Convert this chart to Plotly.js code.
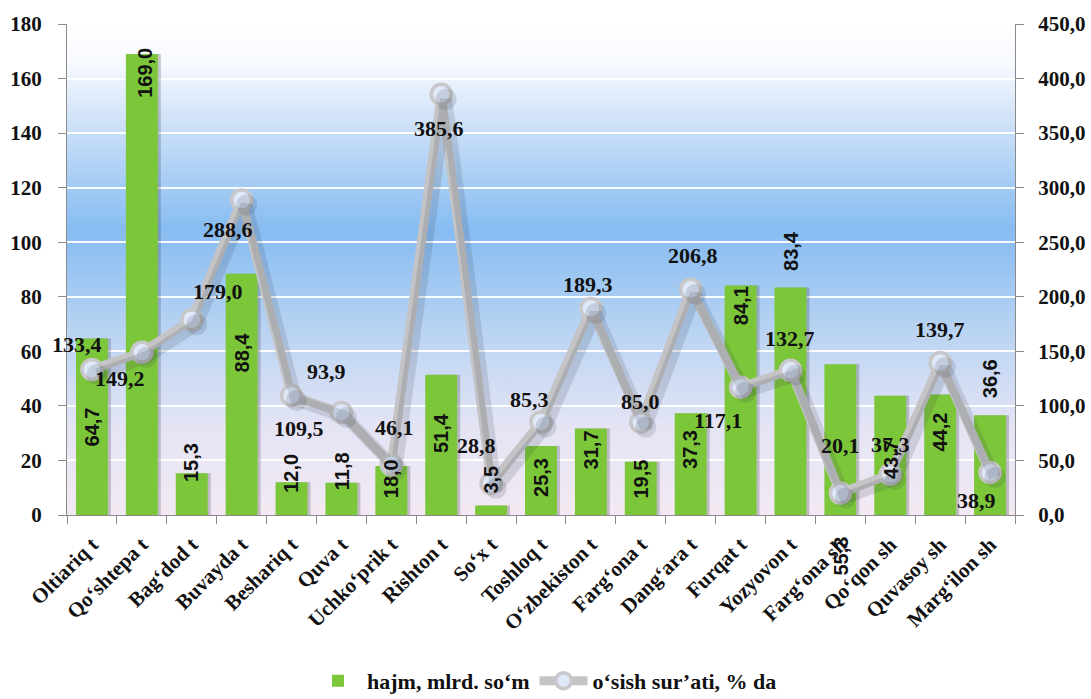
<!DOCTYPE html>
<html>
<head>
<meta charset="utf-8">
<script src="https://cdn.plot.ly/plotly-3.0.1.min.js"></script>
<style>
html,body{margin:0;padding:0;background:#fff;}
#chart{width:1091px;height:699px;}
</style>
</head>
<body>
<div id="chart"></div>
<script>
// ---- data ----
var categories = ["Oltiariq t","Qo‘shtepa t","Bag‘dod t","Buvayda t","Beshariq t","Quva t","Uchko‘prik t","Rishton t","So‘x t","Toshloq t","O‘zbekiston t","Farg‘ona t","Dang‘ara t","Furqat t","Yozyovon t","Farg‘ona sh","Qo‘qon sh","Quvasoy sh","Marg‘ilon sh"];
var hajm = [64.7,169.0,15.3,88.4,12.0,11.8,18.0,51.4,3.5,25.3,31.7,19.5,37.3,84.1,83.4,55.3,43.7,44.2,36.6];
var osish = [133.4,149.2,179.0,288.6,109.5,93.9,46.1,385.6,28.8,85.3,189.3,85.0,206.8,117.1,132.7,20.1,37.3,139.7,38.9];
var seriesNames = ["hajm, mlrd. so‘m","o‘sish sur’ati, % da"];
var leftTicks = [0,20,40,60,80,100,120,140,160,180];
var rightTicks = [0,50,100,150,200,250,300,350,400,450];

// ---- label placement (pixel nudges, style only) ----
var barLabelShift = [-88,-19,11,-79,9,12,-13,-58,26,-32,-21,-17,-36,-20,37,-192,-64,-38,36];
var barLabelXShift = [0,3,0,0,0,0,0,0,0,0,0,0,0,0,0,1,1,0,0];
var lineLabelDX = [-15,-22,26,-14,7,-15,3,-2,-15,-12,-3,0,2,-23,0,0,0,0,-14];
var lineLabelDY = [-25,26,-28,29,33,-41,-37,34,-38,-22,-24,-21,-34,33,-32,-48,-30,-33,28];

function fmt(v){ return v.toFixed(1).replace('.', ','); }

var serif = "Liberation Serif, Times New Roman, serif";
var sans = "Liberation Sans, Arial, sans-serif";

var bgSvg = '<svg xmlns="http://www.w3.org/2000/svg" width="100" height="100" preserveAspectRatio="none">' +
  '<defs><linearGradient id="g" x1="0" y1="0" x2="0" y2="1">' +
  '<stop offset="0" stop-color="#ffffff"/>' +
  '<stop offset="0.08" stop-color="#f6f9fe"/>' +
  '<stop offset="0.22" stop-color="#c8def7"/>' +
  '<stop offset="0.42" stop-color="#86bcf2"/>' +
  '<stop offset="0.62" stop-color="#b8d3f2"/>' +
  '<stop offset="0.82" stop-color="#e4e4f5"/>' +
  '<stop offset="1" stop-color="#f3e9f3"/>' +
  '</linearGradient></defs><rect width="100" height="100" fill="url(#g)"/></svg>';
var bgUri = 'data:image/svg+xml;charset=utf-8,' + encodeURIComponent(bgSvg);

var shadow = {
  type: 'bar', x: categories, y: hajm, width: 0.64, offset: -0.26,
  marker: {color: 'rgba(70,70,80,0.28)', line: {width: 0}},
  showlegend: false, hoverinfo: 'skip'
};
var bars = {
  type: 'bar', name: seriesNames[0], x: categories, y: hajm, width: 0.64,
  marker: {color: '#7cc63a', line: {width: 0}}
};
var lineShadow = {
  type: 'scatter', mode: 'lines+markers', x: categories, y: osish, xaxis: 'x2', yaxis: 'y3',
  line: {color: 'rgba(50,55,70,0.15)', width: 12},
  marker: {size: 21, color: 'rgba(50,55,70,0.15)'},
  showlegend: false, hoverinfo: 'skip'
};
var line = {
  type: 'scatter', mode: 'lines+markers', name: seriesNames[1], x: categories, y: osish, yaxis: 'y2',
  line: {color: '#c4c4c6', width: 9},
  marker: {size: 20, color: '#dfe8f8', line: {color: '#c8c8ca', width: 3.5}}
};

var annotations = [];
for (var i = 0; i < categories.length; i++) {
  annotations.push({
    xref: 'x', yref: 'y', x: categories[i], y: hajm[i], text: fmt(hajm[i]),
    showarrow: false, textangle: -90, xanchor: 'center', yanchor: 'middle',
    yshift: barLabelShift[i], xshift: barLabelXShift[i],
    font: {family: sans, size: 20, weight: 'bold', color: '#111'}
  });
  annotations.push({
    xref: 'x', yref: 'y2', x: categories[i], y: osish[i], text: fmt(osish[i]),
    showarrow: false, xanchor: 'center', yanchor: 'middle',
    xshift: lineLabelDX[i], yshift: -lineLabelDY[i],
    font: {family: serif, size: 22, weight: 'bold', color: '#111'}
  });
}

var shX = 0.1, shY = 4.6; // shadow offsets (style)
var layout = {
  width: 1091, height: 699,
  margin: {l: 67, r: 76, t: 24, b: 184},
  paper_bgcolor: '#ffffff', plot_bgcolor: 'rgba(0,0,0,0)',
  separators: ', ',
  barmode: 'overlay',
  showlegend: true,
  legend: {orientation: 'h', xref: 'container', yref: 'container', x: 0.5, y: 0.026,
    xanchor: 'center', yanchor: 'middle',
    font: {family: serif, size: 22, weight: 'bold', color: '#111'}, itemwidth: 48, bgcolor: 'rgba(0,0,0,0)'},
  images: [{source: bgUri, xref: 'paper', yref: 'paper', x: 0, y: 1, sizex: 1, sizey: 1,
    sizing: 'stretch', xanchor: 'left', yanchor: 'top', layer: 'below'}],
  xaxis: {type: 'category', range: [-0.5, 18.5], tickson: 'boundaries', ticks: 'outside', ticklen: 8,
    tickcolor: '#8a8a8a', showline: true, linecolor: '#8a8a8a', linewidth: 1, showgrid: false, automargin: false,
    tickangle: -45, ticklabelstandoff: 8, tickfont: {family: serif, size: 21, weight: 'bold', color: '#111'}},
  xaxis2: {type: 'category', range: [-0.5 - shX, 18.5 - shX], overlaying: 'x', visible: false, automargin: false},
  yaxis: {range: [0, 180], tickvals: leftTicks, tickformat: 'd', ticks: 'outside', ticklen: 8, automargin: false,
    ticklabelstandoff: 12,
    tickcolor: '#8a8a8a', showline: true, linecolor: '#8a8a8a', gridcolor: 'rgba(255,255,255,0.95)', gridwidth: 2,
    zeroline: false, tickfont: {family: serif, size: 21, weight: 'bold', color: '#111'}},
  yaxis2: {range: [0, 450], tickvals: rightTicks, tickformat: '.1f', overlaying: 'y', side: 'right', automargin: false,
    ticks: 'outside', ticklen: 8, ticklabelstandoff: 10, tickcolor: '#8a8a8a', showline: true, linecolor: '#8a8a8a',
    showgrid: false, zeroline: false, tickfont: {family: serif, size: 21, weight: 'bold', color: '#111'}},
  yaxis3: {range: [shY, 450 + shY], overlaying: 'y', visible: false, automargin: false},
  annotations: annotations
};

Plotly.newPlot('chart', [shadow, bars, lineShadow, line], layout, {displayModeBar: false, staticPlot: true});
</script>
</body>
</html>
